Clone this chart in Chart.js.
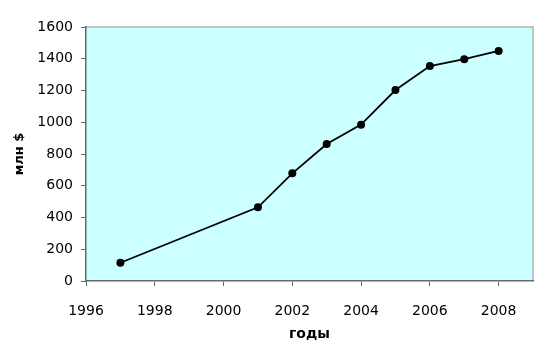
<!DOCTYPE html>
<html>
<head>
<meta charset="utf-8">
<script src="https://cdn.jsdelivr.net/npm/chart.js@4"></script>
<style>
  html, body { margin: 0; padding: 0; background: #fff; }
</style>
</head>
<body>
<canvas id="myChart" width="558" height="353"></canvas>
<script>
const years = [1997, 2001, 2002, 2003, 2004, 2005, 2006, 2007, 2008];
const values = [115, 464, 678, 863, 985, 1203, 1354, 1397, 1449];
const xTicks = [1996, 1998, 2000, 2002, 2004, 2006, 2008];

// light cyan plot background
const plotBg = {
    id: 'plotBg',
    beforeDraw(chart) {
        const a = chart.chartArea;
        const c = chart.ctx;
        c.save();
        c.fillStyle = '#ccffff';
        c.fillRect(a.left, a.top, a.right - a.left, a.bottom - a.top);
        c.strokeStyle = '#a9b6bc';
        c.lineWidth = 1.5;
        c.beginPath();
        c.moveTo(a.left, a.top);
        c.lineTo(a.right, a.top);
        c.lineTo(a.right, a.bottom);
        c.stroke();
        c.restore();
    }
};

const tickFont = { family: 'DejaVu Sans', size: 14 };

const ctx = document.getElementById('myChart');
new Chart(ctx, {
    type: 'line',
    data: {
        datasets: [{
            data: years.map((y, i) => ({ x: y, y: values[i] })),
            borderColor: '#000',
            borderWidth: 1.8,
            backgroundColor: '#000',
            pointRadius: 4,
            pointBorderWidth: 0,
            tension: 0
        }]
    },
    options: {
        responsive: false,
        animation: false,
        layout: { padding: { top: 27, right: 25, left: 0, bottom: 0 } },
        scales: {
            x: {
                type: 'linear',
                min: 1996,
                max: 2009,
                afterBuildTicks: (axis) => {
                    axis.ticks = xTicks.map(v => ({ value: v }));
                },
                afterFit: (axis) => { axis.height = 72; },
                ticks: {
                    color: '#000',
                    padding: 17,
                    maxRotation: 0,
                    autoSkip: false,
                    font: tickFont,
                    callback: (v) => String(v)
                },
                grid: { drawOnChartArea: false, color: '#5f6b73', tickLength: 5 },
                border: { color: '#5f6b73', width: 1.5 },
                title: {
                    display: true,
                    text: 'годы',
                    color: '#000',
                    padding: { top: 4, bottom: 10 },
                    font: { family: 'DejaVu Sans', size: 14, weight: 'bold' }
                }
            },
            y: {
                min: 0,
                max: 1600,
                afterFit: (axis) => { axis.width = 86; },
                ticks: {
                    stepSize: 200,
                    color: '#000',
                    padding: 8,
                    font: tickFont,
                    callback: (v) => String(v)
                },
                grid: { drawOnChartArea: false, color: '#5f6b73', tickLength: 5 },
                border: { color: '#5f6b73', width: 1.5 },
                title: {
                    display: true,
                    text: 'млн $',
                    color: '#000',
                    padding: { top: 12, bottom: 0 },
                    font: { family: 'DejaVu Sans', size: 13, weight: 'bold' }
                }
            }
        },
        plugins: {
            legend: { display: false },
            tooltip: { enabled: false }
        }
    },
    plugins: [plotBg]
});
</script>
</body>
</html>
